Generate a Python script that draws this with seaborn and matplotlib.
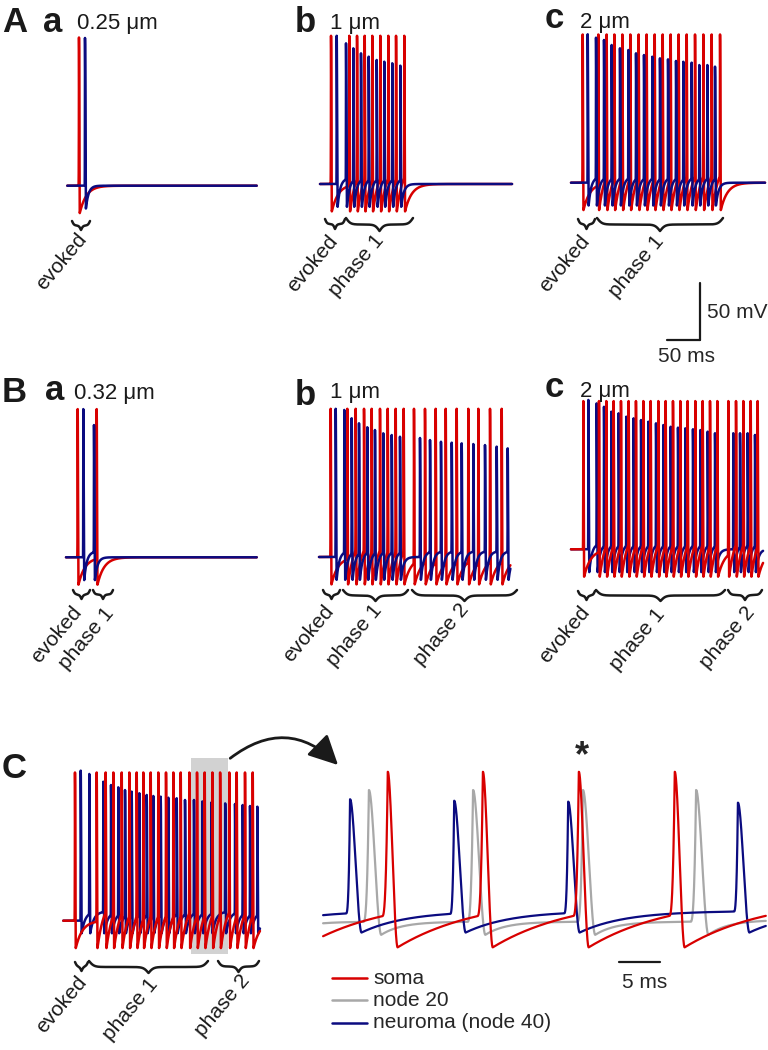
import numpy as np
import matplotlib
matplotlib.use('Agg')
import matplotlib.pyplot as plt
import seaborn as sns
from matplotlib.patches import FancyArrowPatch, Rectangle

# ---------------- data (spike peak times in ms, neuroma peak voltages in mV) ----------------
aa_soma_t = [17.7]
aa_neur_t = [26.8]
aa_neur_v = [69.6]

ab_soma_t = [16.7, 44.4, 56.1, 67.7, 79.2, 91.4, 103.5, 115.2, 127.7]
ab_neur_t = [25.3, 39.4, 50.5, 62.1, 73.8, 85.9, 97.4, 109.5, 121.7]
ab_neur_v = [70.0, 63.4, 59.0, 54.6, 51.7, 48.8, 47.3, 45.9, 43.8]

ac_soma_t = [17.7, 41.4, 54.0, 65.7, 77.8, 89.9, 102.5, 114.6, 126.8, 138.9, 151.0,
             163.1, 175.3, 187.9, 200.5, 213.1, 225.8]
ac_neur_t = [25.3, 37.9, 50.0, 61.6, 74.2, 86.9, 98.5, 110.6, 123.2, 134.8, 147.0,
             159.1, 170.2, 182.8, 194.4, 206.6, 218.2]
ac_neur_v = [70.2, 67.2, 65.2, 60.8, 57.9, 56.4, 53.5, 52.0, 50.5, 49.1, 48.2,
             46.8, 46.1, 45.3, 43.2, 43.2, 41.8]

ba_soma_t = [17.7, 46.5]
ba_neur_t = [26.2, 42.4]
ba_neur_v = [70.0, 56.0]

bb_soma_t = [17.7, 42.9, 55.6, 68.2, 79.8, 92.4, 104.1, 116.2, 128.3, 143.9, 160.6,
             176.8, 192.0, 208.6, 226.2, 241.4, 259.1, 276.8]
bb_neur_t = [25.3, 38.3, 49.5, 60.6, 73.2, 84.8, 97.4, 110.2, 122.7, 153.0, 168.2,
             184.8, 201.1, 216.2, 233.8, 251.5, 269.2, 285.9]
bb_neur_v = [70.0, 69.0, 61.7, 57.3, 53.8, 51.4, 48.5, 47.0, 45.5, 44.4, 42.6,
             41.1, 40.3, 39.7, 39.1, 38.2, 36.8, 35.3]

bc_soma_t = [18.7, 42.4, 53.5, 64.6, 75.7, 87.3, 98.4, 109.6, 120.7, 132.3, 143.4,
             154.5, 165.6, 176.7, 188.3, 199.5, 210.6, 221.7, 238.4, 250.0, 261.1,
             272.2, 282.8]
bc_neur_t = [26.3, 38.9, 50.0, 61.1, 72.2, 83.8, 94.9, 106.1, 117.2, 128.8, 139.9,
             151.0, 162.1, 173.2, 184.8, 196.0, 207.1, 218.2, 245.9, 256.1, 267.7, 278.8]
bc_neur_v = [71.0, 68.0, 65.0, 60.7, 59.3, 56.3, 54.9, 53.4, 51.9, 50.5, 49.0,
             47.5, 46.7, 46.1, 45.3, 44.6, 43.2, 41.8, 41.8, 41.8, 41.8, 40.3]

c_soma_t = [17.7, 50.6, 64.2, 75.8, 88.5, 100.0, 111.2, 121.2, 132.4, 143.9, 155.6,
            166.7, 177.9, 191.0, 202.6, 214.2, 225.9, 237.6, 251.5, 262.7, 275.3, 287.0]
c_neur_t = [26.4, 39.4, 60.6, 72.3, 83.3, 93.5, 103.6, 115.2, 126.4, 136.4, 147.6,
            159.1, 171.8, 184.4, 198.0, 210.7, 224.6, 245.3, 260.2, 271.8, 282.9, 294.0]
c_neur_v = [71.6, 68.7, 61.9, 59.0, 57.0, 54.6, 53.2, 51.8, 50.3, 49.4, 48.8,
            47.9, 47.4, 45.9, 45.9, 44.6, 43.8, 42.9, 42.4, 41.5, 40.6, 40.0]
c_node_t = [187.9, 200.3, 213.0, 226.4, 240.2]
c_node_v = [54.0, 54.0, 54.0, 54.0, 54.0]
zoom_window = [194.7, 248.7]

soma_peak = 70.0
rest_mv = -60.0
legend_labels = ['soma', 'node 20', 'neuroma (node 40)']

# ---------------- style ----------------
sns.set_theme(style='white')
plt.rcParams['font.family'] = ['Liberation Sans', 'DejaVu Sans']

RED, BLUE, GREY = '#d80000', '#0b0b80', '#a8a8a8'
SOMA = dict(trough=-84.0, target=-40.0, tau=10.0, isi_max=15.0, t_fall=1.2, t_rise=0.7)
NEUR = dict(trough=-80.0, target=-55.0, tau=4.0, isi_max=25.0, t_fall=1.4, t_rise=0.5)
NEUR_C = dict(NEUR, trough=-71.0, target=-52.0, tau=5.5)
NODE = dict(trough=-73.0, target=-61.5, tau=2.5, isi_max=100.0, t_fall=1.5, t_rise=0.7)

W, H = 768, 1050
PX_MS, PX_MV = 0.66, 1.14

fig = plt.figure(figsize=(7.68, 10.5), dpi=100)
fig.patch.set_facecolor('white')


def make_trace(t, times, peaks, trough, target, tau, isi_max, t_fall, t_rise, rest=rest_mv):
    times = np.asarray(times, float)
    peaks = np.broadcast_to(np.asarray(peaks, float), times.shape)
    n = len(times)

    def relax(i, tt):
        dt = tt - times[i]
        nxt = times[i + 1] - times[i] if i + 1 < n else np.inf
        tgt = target if nxt < isi_max else rest
        s = np.clip(dt / t_fall, 0, 1)
        fall = peaks[i] + (trough - peaks[i]) * (3 * s ** 2 - 2 * s ** 3)
        rec = tgt - (tgt - trough) * np.exp(-np.clip(dt - t_fall, 0, None) / tau)
        return np.where(dt < t_fall, fall, rec)

    v = np.full(t.shape, rest, dtype=float)
    for i in range(n):
        end = times[i + 1] if i + 1 < n else np.inf
        m = (t >= times[i]) & (t < end)
        v[m] = relax(i, t[m])
    for i in range(n):
        t0 = times[i] - t_rise
        v0 = rest if i == 0 else float(relax(i - 1, np.array([t0]))[0])
        m = (t >= t0) & (t < times[i])
        u = (t[m] - t0) / t_rise
        v[m] = v0 + (peaks[i] - v0) * u ** 3
    return v


def add_panel(x0, base, t_lo, t_hi, px_ms, v_lo=-105.0, v_hi=85.0):
    width = (t_hi - t_lo) * px_ms
    top = base - (v_hi - rest_mv) * PX_MV
    bottom = base + (rest_mv - v_lo) * PX_MV
    ax = fig.add_axes([x0 / W, 1 - bottom / H, width / W, (bottom - top) / H])
    ax.set_xlim(t_lo, t_hi)
    ax.set_ylim(v_lo, v_hi)
    ax.axis('off')
    return ax


def draw(ax, t, v, color, lw):
    sns.lineplot(x=t, y=v, ax=ax, color=color, linewidth=lw, estimator=None,
                 sort=False, legend=False)
    ax.lines[-1].set_clip_on(False)


panels = [
    (aa_soma_t, aa_neur_t, aa_neur_v, 67.3, 185.7, 287, False, NEUR),
    (ab_soma_t, ab_neur_t, ab_neur_v, 320.0, 184.0, 291, False, NEUR),
    (ac_soma_t, ac_neur_t, ac_neur_v, 571.0, 182.7, 294, False, NEUR),
    (ba_soma_t, ba_neur_t, ba_neur_v, 66.0, 557.3, 289, False, NEUR),
    (bb_soma_t, bb_neur_t, bb_neur_v, 319.0, 557.0, 290, False, NEUR),
    (bc_soma_t, bc_neur_t, bc_neur_v, 571.0, 549.3, 291, True, NEUR),
    (c_soma_t, c_neur_t, c_neur_v, 63.3, 920.7, 298, True, NEUR_C),
]

axes = []
for soma_t, neur_t, neur_v, x0, base, span, red_top, nprm in panels:
    ax = add_panel(x0, base, 0, span, PX_MS)
    axes.append(ax)
    t = np.union1d(np.arange(0, span, 0.02), np.r_[soma_t, neur_t])
    vr = make_trace(t, soma_t, soma_peak, **SOMA)
    vb = make_trace(t, neur_t, neur_v, **nprm)
    if red_top:
        draw(ax, t, vb, BLUE, 1.8)
        draw(ax, t, vr, RED, 1.8)
    else:
        draw(ax, t, vr, RED, 1.8)
        draw(ax, t, vb, BLUE, 1.8)

# grey highlight box in C (zoomed window)
axc = axes[6]
axc.add_patch(Rectangle((zoom_window[0] - 1.0, -89.2), zoom_window[1] - zoom_window[0] + 2.0,
                        171.9, facecolor='#d2d2d2', edgecolor='none', zorder=0))

# 50 ms / 50 mV scale bar (in panel A c data units)
axs = axes[2]
axs.plot([145.5, 195.5], [-198.0, -198.0], color='k', lw=1.6, clip_on=False)
axs.plot([195.5, 195.5], [-198.0, -148.0], color='k', lw=1.6, clip_on=False)

# zoomed panel
axr = add_panel(323.0, 920.0, zoom_window[0], zoom_window[1], 8.2)
tz = np.union1d(np.arange(170, 260, 0.01), np.r_[c_soma_t, c_neur_t, c_node_t])
gz = make_trace(tz, c_node_t, c_node_v, **NODE)
bz = make_trace(tz, c_neur_t, c_neur_v, **NEUR_C)
rz = make_trace(tz, c_soma_t, soma_peak, **SOMA)
mz = (tz >= zoom_window[0]) & (tz <= zoom_window[1])
draw(axr, tz[mz], gz[mz], GREY, 1.6)
draw(axr, tz[mz], bz[mz], BLUE, 1.6)
draw(axr, tz[mz], rz[mz], RED, 1.6)
axr.plot([230.8, 235.8], [-96.8, -96.8], color='k', lw=1.6, clip_on=False)

# ---------------- overlay (annotations in pixel coordinates) ----------------
ov = fig.add_axes([0, 0, 1, 1])
ov.set_xlim(0, W)
ov.set_ylim(H, 0)
ov.axis('off')
ov.patch.set_alpha(0)

letters = [('A', 2, 31.7, 25, 'bold'), ('a', 43, 31.7, 25, 'bold'), ('0.25 μm', 77, 29, 16, 'normal'),
           ('b', 295, 32, 25, 'bold'), ('1 μm', 330, 29, 16, 'normal'),
           ('c', 545, 28.5, 25, 'bold'), ('2 μm', 580, 28, 16, 'normal'),
           ('B', 2, 401.7, 25, 'bold'), ('a', 45, 400, 25, 'bold'), ('0.32 μm', 74, 399, 16, 'normal'),
           ('b', 295, 405, 25, 'bold'), ('1 μm', 330, 398, 16, 'normal'),
           ('c', 545, 397, 25, 'bold'), ('2 μm', 580, 397, 16, 'normal'),
           ('C', 2, 778, 25, 'bold')]
for s, x, y, fs, fw in letters:
    ov.text(x, y, s, fontsize=fs, fontweight=fw, ha='left', va='baseline', color='k')


def brace(x1, x2, y0, h, beta):
    xm = (x1 + x2) / 2.0
    xh = np.linspace(x1, xm, 200)
    yh = 1 / (1 + np.exp(-beta * (xh - x1))) + 1 / (1 + np.exp(-beta * (xh - xm)))
    xs = np.concatenate([xh, (2 * xm - xh)[::-1]])
    ys = np.concatenate([yh, yh[::-1]])
    ov.plot(xs, y0 + h * (ys - 0.5), color='k', lw=1.8, solid_capstyle='round')


braces = [(72, 90, 221, 9, 1.0),
          (325, 345, 219, 10, 1.0), (346, 413, 218, 13, 0.45),
          (578, 595, 219, 10, 1.0), (597, 723, 218, 13, 0.4),
          (73, 90, 590, 9, 1.0), (93, 113, 590, 9, 1.0),
          (323, 340, 590, 9, 1.0), (343, 408, 590, 11, 0.45), (412, 517, 590, 11, 0.4),
          (578, 595, 591, 9, 1.0), (596, 725, 590, 11, 0.4), (728, 762, 590, 10, 0.7),
          (75, 88, 962, 9, 1.0), (89, 208, 961, 12, 0.4), (218, 259, 961, 11, 0.6)]
for b in braces:
    brace(*b)

labels = [('evoked', 61.5, 261.5),
          ('evoked', 312.5, 264), ('phase 1', 356.5, 265),
          ('evoked', 564.5, 264), ('phase 1', 636.5, 266),
          ('evoked', 57, 635), ('phase 1', 86.5, 638),
          ('evoked', 309, 634), ('phase 1', 354.5, 635), ('phase 2', 441.5, 635),
          ('evoked', 565, 635), ('phase 1', 637.5, 639), ('phase 2', 727.5, 638),
          ('evoked', 62, 1005), ('phase 1', 130.5, 1009), ('phase 2', 222.5, 1006)]
for s, x, y in labels:
    ov.text(x, y, s, fontsize=15, rotation=50, rotation_mode='anchor',
            ha='center', va='center', color='k')

ov.text(707, 313, '50 mV', fontsize=15, ha='left', va='center')
ov.text(687, 356, '50 ms', fontsize=15, ha='center', va='center')
ov.text(644.5, 982, '5 ms', fontsize=15, ha='center', va='center')
ov.text(582, 766, '*', fontsize=26, fontweight='bold', ha='center', va='baseline')

arrow = FancyArrowPatch((228, 760), (340, 767), connectionstyle='arc3,rad=-0.45',
                        arrowstyle='-|>,head_length=1.2,head_width=0.6',
                        mutation_scale=15, lw=2, color='k')
ov.add_patch(arrow)

for lab, col, y in zip(legend_labels, [RED, GREY, BLUE], [978, 1000, 1023]):
    ov.plot([332, 367], [y, y], color=col, lw=1.8)
    ov.text(373, y, lab, fontsize=15, ha='left', va='center')

fig.savefig('out.png', dpi=100, facecolor='white')
